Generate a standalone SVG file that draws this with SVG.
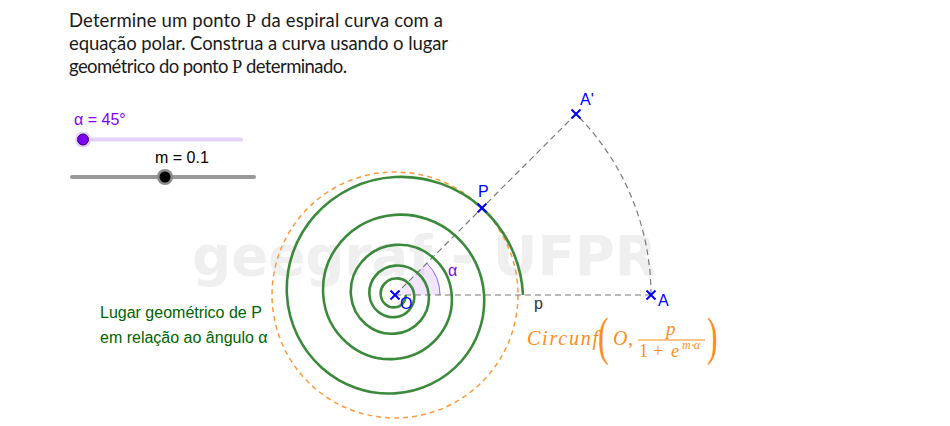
<svg xmlns="http://www.w3.org/2000/svg" width="950" height="426" viewBox="0 0 950 426">
<style>
.title{font-family:Lato,"Liberation Sans",sans-serif;font-size:18.5px;fill:#1a1a1a}
.ser{font-family:"Liberation Serif",serif}
.lbl{font-family:"Liberation Sans",Arial,sans-serif;font-size:16px}
.blue{fill:#0000ff}
.cross{stroke:#0000ff;stroke-width:2;fill:none}
.dash{stroke:#7a7a7a;stroke-width:1.2;stroke-dasharray:6 4;fill:none}
.math{font-family:"Liberation Serif","Times New Roman",serif;fill:#ff8c1a}
.it{font-style:italic}
</style>
<rect width="950" height="426" fill="#ffffff"/>
<g id="watermark">
<text x="192" y="275" textLength="465" lengthAdjust="spacingAndGlyphs" font-family="DejaVu Sans, sans-serif" font-weight="bold" font-size="55" fill="#efefef">geegraf - UFPR</text>
</g>
<g id="title" class="title">
<text x="69" y="26.5" textLength="374" lengthAdjust="spacing">Determine um ponto <tspan class="ser">P</tspan> da espiral curva com a</text>
<text x="69" y="49.5" textLength="379" lengthAdjust="spacing">equação polar. Construa a curva usando o lugar</text>
<text x="69" y="72.5" textLength="278" lengthAdjust="spacing">geométrico do ponto <tspan class="ser">P</tspan> determinado.</text>
</g>
<g id="slider-alpha">
<text x="74" y="125" class="lbl" fill="#7f00ff">α = 45°</text>
<line x1="79" y1="139.5" x2="241" y2="139.5" stroke="#e3d1fa" stroke-width="4" stroke-linecap="round"/>
<circle cx="83" cy="139.5" r="8" fill="#e3d1fa"/>
<circle cx="83" cy="139.5" r="5.5" fill="#7a00f0" stroke="#3a0070" stroke-width="1"/>
</g>
<g id="slider-m">
<text x="155" y="163" class="lbl" fill="#000">m = 0.1</text>
<line x1="72" y1="177" x2="254" y2="177" stroke="#999" stroke-width="4" stroke-linecap="round"/>
<circle cx="165" cy="177" r="8" fill="#8a8a8a"/>
<circle cx="165" cy="177" r="5.5" fill="#000"/>
</g>
<g id="circle-orange">
<circle cx="395" cy="295" r="123" fill="none" stroke="#ff9a3c" stroke-width="1.5" stroke-dasharray="5 4"/>
</g>
<g id="angle-alpha">
<path d="M395 295 L440 295 A45 45 0 0 0 426.82 263.18 Z" fill="#7f00ff" fill-opacity="0.1"/>
<path d="M440 295 A45 45 0 0 0 426.82 263.18" fill="none" stroke="#a060ff" stroke-width="1"/>
<text x="448" y="276" class="lbl" fill="#7f00ff">α</text>
</g>
<g id="connectors">
<line class="dash" x1="395" y1="295" x2="651" y2="295"/>
<line class="dash" x1="395" y1="295" x2="576" y2="114"/>
<path class="dash" d="M651 295 A256 256 0 0 0 576 114"/>
</g>
<g id="spiral">
<path fill="none" stroke="#3b8a3b" stroke-width="2.6" d="M523 295 A125.5 125.5 0 0 0 481.96 208.04 A120.5 120.5 0 0 0 395 177.03 A115.5 115.5 0 0 0 315.11 215.11 A110.5 110.5 0 0 0 286.94 295 A105.6 105.6 0 0 0 322.04 367.96 A100.8 100.8 0 0 0 395 393.39 A96 96 0 0 0 461.24 361.24 A91.4 91.4 0 0 0 484.06 295 A86.8 86.8 0 0 0 454.79 235.21 A82.4 82.4 0 0 0 395 214.83 A78 78 0 0 0 341.33 241.33 A73.8 73.8 0 0 0 323.22 295 A69.8 69.8 0 0 0 347.06 342.94 A65.9 65.9 0 0 0 395 358.95 A62.1 62.1 0 0 0 437.61 337.61 A58.5 58.5 0 0 0 451.72 295 A55 55 0 0 0 432.71 257.29 A51.7 51.7 0 0 0 395 244.92 A48.5 48.5 0 0 0 361.77 261.77 A45.5 45.5 0 0 0 350.94 295 A42.7 42.7 0 0 0 365.82 324.18 A39.9 39.9 0 0 0 395 333.62 A37.4 37.4 0 0 0 420.54 320.54 A34.9 34.9 0 0 0 428.75 295 A32.6 32.6 0 0 0 417.28 272.72 A30.5 30.5 0 0 0 395 265.6 A28.4 28.4 0 0 0 375.61 275.61 A26.5 26.5 0 0 0 369.45 295 A24.7 24.7 0 0 0 378.17 311.83 A23 23 0 0 0 395 317.16 A21.4 21.4 0 0 0 409.58 309.58 A19.9 19.9 0 0 0 414.18 295 A18.5 18.5 0 0 0 407.61 282.39 A17.2 17.2 0 0 0 395 278.43 A16 16 0 0 0 384.11 284.11 A14.8 14.8 0 0 0 380.7 295 A13.8 13.8 0 0 0 385.61 304.39 A12.8 12.8 0 0 0 395 307.32 A11.9 11.9 0 0 0 403.08 303.08 A11 11 0 0 0 405.6 295"/>
</g>
<g id="point-O">
<path class="cross" d="M390.5 290.5 L399.5 299.5 M390.5 299.5 L399.5 290.5"/>
<text x="400" y="309" class="lbl blue">O</text>
</g>
<g id="point-P">
<path class="cross" d="M477.5 203.5 L486.5 212.5 M477.5 212.5 L486.5 203.5"/>
<text x="478" y="197" class="lbl blue">P</text>
</g>
<g id="point-A">
<path class="cross" d="M646.5 290.5 L655.5 299.5 M646.5 299.5 L655.5 290.5"/>
<text x="658" y="306" class="lbl blue">A</text>
</g>
<g id="point-A1">
<path class="cross" d="M571.5 109.5 L580.5 118.5 M571.5 118.5 L580.5 109.5"/>
<text x="580" y="105" class="lbl blue">A'</text>
</g>
<g id="label-p">
<text x="534" y="309" class="lbl" fill="#333">p</text>
</g>
<g id="locus-label" class="lbl" fill="#006400">
<text x="100" y="318">Lugar geométrico de P</text>
<text x="100" y="343">em relação ao ângulo α</text>
</g>
<g id="circunf-label" class="math">
<text x="527" y="345" font-size="20" class="it" textLength="71" lengthAdjust="spacing">Circunf</text>
<text transform="translate(598 354) scale(0.6 1)" font-size="53">(</text>
<text x="613" y="345" font-size="20" class="it">O</text>
<text x="628" y="345" font-size="20">,</text>
<text x="666" y="335" font-size="19" class="it">p</text>
<line x1="638" y1="340" x2="705" y2="340" stroke="#ff8c1a" stroke-width="1"/>
<text x="639" y="357" font-size="18">1</text>
<text x="653" y="357" font-size="18">+</text>
<text x="671" y="357" font-size="18" class="it">e</text>
<text x="682" y="349" font-size="12" class="it">m·α</text>
<text transform="translate(707 354) scale(0.6 1)" font-size="53">)</text>
</g>
</svg>
